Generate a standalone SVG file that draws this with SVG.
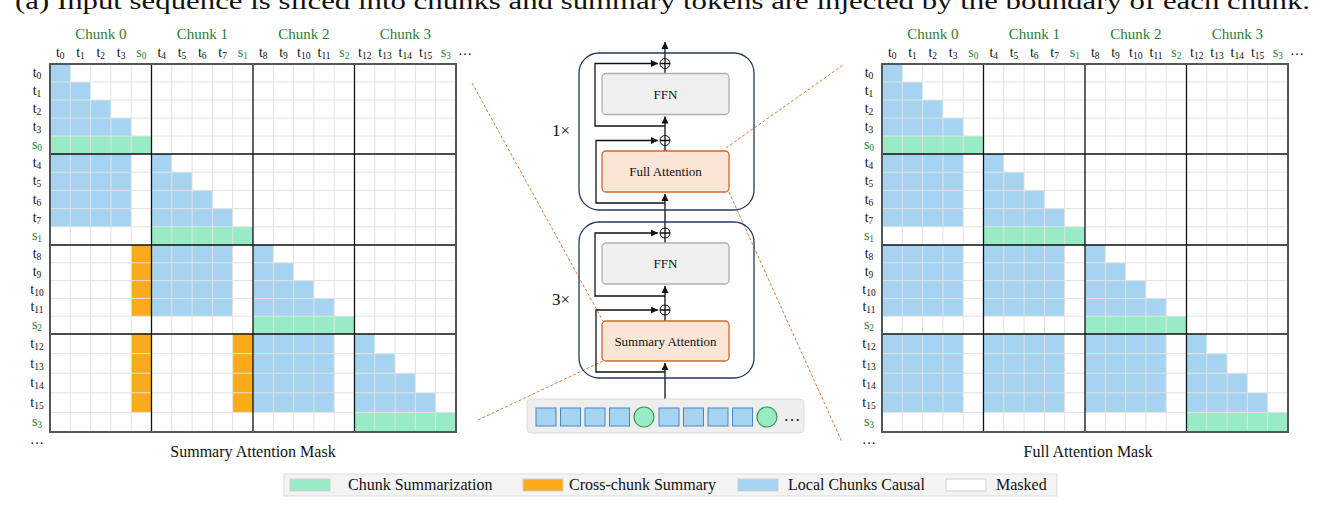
<svg xmlns="http://www.w3.org/2000/svg" xmlns:xlink="http://www.w3.org/1999/xlink" width="1336" height="519" viewBox="0 0 1336 519" font-family="'Liberation Serif', serif">
<style>
text{font-family:'Liberation Serif',serif;fill:#111}
.lb{font-size:14px;text-anchor:middle}
.g{fill:#2e7d32}
.ck{font-size:15px;text-anchor:middle;fill:#2e7d32}
.b{fill:#a6d4f0}
.gr{fill:#98ebc4}
.o{fill:#fbaa19}
.grid{stroke:#e2e2e2;stroke-width:1;fill:none}
.bd{stroke:#111;stroke-width:1.3;fill:none}
.ob{stroke:#555;stroke-width:2;fill:none}
.blk{fill:none;stroke:#223a5e;stroke-width:1.3}
.ffn{fill:#f0f0f0;stroke:#b0b0b0;stroke-width:1.3}
.att{fill:#fbe5d6;stroke:#d06a28;stroke-width:1.3}
.ln{stroke:#111;stroke-width:1.3;fill:none}
.dash{stroke:#e07a30;stroke-width:1;stroke-dasharray:3,2;fill:none}
.tok{fill:#a6d4f0;stroke:#4a86c0;stroke-width:1}
.sum{fill:#98ebc4;stroke:#3a9a4a;stroke-width:1.2}
.sub{font-size:9.5px}
.lg{font-size:16px}
</style>
<defs>
<marker id="ar" markerWidth="8" markerHeight="8" refX="7" refY="4" orient="auto" markerUnits="userSpaceOnUse"><path d="M0,0.5L7,4L0,7.5Z" fill="#111"/></marker>
<g id="gridlines">
<path class="grid" d="M70.3 64V432M90.6 64V432M110.9 64V432M131.2 64V432M171.8 64V432M192.1 64V432M212.4 64V432M232.7 64V432M273.3 64V432M293.6 64V432M313.9 64V432M334.2 64V432M374.8 64V432M395.1 64V432M415.4 64V432M435.7 64V432M50 82H456M50 100H456M50 118H456M50 136H456M50 172.2H456M50 190.4H456M50 208.6H456M50 226.8H456M50 262.8H456M50 280.6H456M50 298.4H456M50 316.2H456M50 353.6H456M50 373.2H456M50 392.8H456M50 412.4H456"/>
<path class="bd" d="M151.5 64V432M253 64V432M354.5 64V432M50 154H456M50 245H456M50 334H456"/>
<rect class="ob" x="50" y="64" width="406" height="368"/>
</g>
<g id="diag">
<rect class="b" x="50" y="64" width="20.3" height="18"/><rect class="b" x="50" y="82" width="40.6" height="18"/><rect class="b" x="50" y="100" width="60.9" height="18"/><rect class="b" x="50" y="118" width="81.2" height="18"/><rect class="gr" x="50" y="136" width="101.5" height="18"/>
<rect class="b" x="151.5" y="154" width="20.3" height="18.2"/><rect class="b" x="151.5" y="172.2" width="40.6" height="18.2"/><rect class="b" x="151.5" y="190.4" width="60.9" height="18.2"/><rect class="b" x="151.5" y="208.6" width="81.2" height="18.2"/><rect class="gr" x="151.5" y="226.8" width="101.5" height="18.2"/>
<rect class="b" x="253" y="245" width="20.3" height="17.8"/><rect class="b" x="253" y="262.8" width="40.6" height="17.8"/><rect class="b" x="253" y="280.6" width="60.9" height="17.8"/><rect class="b" x="253" y="298.4" width="81.2" height="17.8"/><rect class="gr" x="253" y="316.2" width="101.5" height="17.8"/>
<rect class="b" x="354.5" y="334" width="20.3" height="19.6"/><rect class="b" x="354.5" y="353.6" width="40.6" height="19.6"/><rect class="b" x="354.5" y="373.2" width="60.9" height="19.6"/><rect class="b" x="354.5" y="392.8" width="81.2" height="19.6"/><rect class="gr" x="354.5" y="412.4" width="101.5" height="19.6"/>
</g>
<g id="labels">
<text class="ck" x="100.8" y="39">Chunk 0</text><text class="ck" x="202.3" y="39">Chunk 1</text><text class="ck" x="303.8" y="39">Chunk 2</text><text class="ck" x="405.3" y="39">Chunk 3</text>
<text class="lb" y="57"><tspan x="60.2">t<tspan class="sub" dy="2">0</tspan></tspan><tspan x="80.5" dy="-2">t<tspan class="sub" dy="2">1</tspan></tspan><tspan x="100.8" dy="-2">t<tspan class="sub" dy="2">2</tspan></tspan><tspan x="121.1" dy="-2">t<tspan class="sub" dy="2">3</tspan></tspan><tspan x="141.4" dy="-2" class="g">s<tspan class="sub" dy="2">0</tspan></tspan><tspan x="161.7" dy="-2">t<tspan class="sub" dy="2">4</tspan></tspan><tspan x="182" dy="-2">t<tspan class="sub" dy="2">5</tspan></tspan><tspan x="202.3" dy="-2">t<tspan class="sub" dy="2">6</tspan></tspan><tspan x="222.6" dy="-2">t<tspan class="sub" dy="2">7</tspan></tspan><tspan x="242.9" dy="-2" class="g">s<tspan class="sub" dy="2">1</tspan></tspan><tspan x="263.2" dy="-2">t<tspan class="sub" dy="2">8</tspan></tspan><tspan x="283.5" dy="-2">t<tspan class="sub" dy="2">9</tspan></tspan><tspan x="303.8" dy="-2">t<tspan class="sub" dy="2">10</tspan></tspan><tspan x="324.1" dy="-2">t<tspan class="sub" dy="2">11</tspan></tspan><tspan x="344.4" dy="-2" class="g">s<tspan class="sub" dy="2">2</tspan></tspan><tspan x="364.7" dy="-2">t<tspan class="sub" dy="2">12</tspan></tspan><tspan x="385" dy="-2">t<tspan class="sub" dy="2">13</tspan></tspan><tspan x="405.3" dy="-2">t<tspan class="sub" dy="2">14</tspan></tspan><tspan x="425.6" dy="-2">t<tspan class="sub" dy="2">15</tspan></tspan><tspan x="445.9" dy="-2" class="g">s<tspan class="sub" dy="2">3</tspan></tspan><tspan x="465" dy="-4">…</tspan></text>
<text class="lb" x="37" y="77">t<tspan class="sub" dy="2">0</tspan></text>
<text class="lb" x="37" y="95">t<tspan class="sub" dy="2">1</tspan></text>
<text class="lb" x="37" y="113">t<tspan class="sub" dy="2">2</tspan></text>
<text class="lb" x="37" y="131">t<tspan class="sub" dy="2">3</tspan></text>
<text class="lb g" x="37" y="149">s<tspan class="sub" dy="2">0</tspan></text>
<text class="lb" x="37" y="167">t<tspan class="sub" dy="2">4</tspan></text>
<text class="lb" x="37" y="185">t<tspan class="sub" dy="2">5</tspan></text>
<text class="lb" x="37" y="203.5">t<tspan class="sub" dy="2">6</tspan></text>
<text class="lb" x="37" y="221.5">t<tspan class="sub" dy="2">7</tspan></text>
<text class="lb g" x="37" y="240">s<tspan class="sub" dy="2">1</tspan></text>
<text class="lb" x="37" y="258">t<tspan class="sub" dy="2">8</tspan></text>
<text class="lb" x="37" y="275.5">t<tspan class="sub" dy="2">9</tspan></text>
<text class="lb" x="37" y="293.5">t<tspan class="sub" dy="2">10</tspan></text>
<text class="lb" x="37" y="311">t<tspan class="sub" dy="2">11</tspan></text>
<text class="lb g" x="37" y="329">s<tspan class="sub" dy="2">2</tspan></text>
<text class="lb" x="37" y="348">t<tspan class="sub" dy="2">12</tspan></text>
<text class="lb" x="37" y="367.5">t<tspan class="sub" dy="2">13</tspan></text>
<text class="lb" x="37" y="387">t<tspan class="sub" dy="2">14</tspan></text>
<text class="lb" x="37" y="406.5">t<tspan class="sub" dy="2">15</tspan></text>
<text class="lb g" x="37" y="426">s<tspan class="sub" dy="2">3</tspan></text>
<text class="lb" x="37" y="444">…</text>
</g>
</defs>

<text x="15" y="9" style="font-size:24px" textLength="1295" lengthAdjust="spacingAndGlyphs">(a) Input sequence is sliced into chunks and summary tokens are injected by the boundary of each chunk.</text>

<g id="summary-mask">
<rect x="50" y="64" width="406" height="368" fill="#fff"/>
<use xlink:href="#diag"/>
<rect class="b" x="50" y="154" width="81.2" height="72.8"/>
<rect class="b" x="151.5" y="245" width="81.2" height="71.2"/>
<rect class="b" x="253" y="334" width="81.2" height="78.4"/>
<rect class="o" x="131.2" y="245" width="20.3" height="71.2"/>
<rect class="o" x="131.2" y="334" width="20.3" height="78.4"/>
<rect class="o" x="232.7" y="334" width="20.3" height="78.4"/>
<use xlink:href="#gridlines"/>
<use xlink:href="#labels"/>
<text x="253" y="457" class="lg" style="text-anchor:middle">Summary Attention Mask</text>
</g>

<g id="full-mask" transform="translate(832,0)">
<rect x="50" y="64" width="406" height="368" fill="#fff"/>
<use xlink:href="#diag"/>
<rect class="b" x="50" y="154" width="81.2" height="72.8"/>
<rect class="b" x="50" y="245" width="81.2" height="71.2"/>
<rect class="b" x="151.5" y="245" width="81.2" height="71.2"/>
<rect class="b" x="50" y="334" width="81.2" height="78.4"/>
<rect class="b" x="151.5" y="334" width="81.2" height="78.4"/>
<rect class="b" x="253" y="334" width="81.2" height="78.4"/>
<use xlink:href="#gridlines"/>
<use xlink:href="#labels"/>
<text x="256" y="457" class="lg" style="text-anchor:middle">Full Attention Mask</text>
</g>

<g id="connectors">
<path class="dash" d="M472 83L603 321M478 420L603 361M726 148L843 65M729 192L842 442"/>
<path class="ln" d="M665 399V363" marker-end="url(#ar)"/>
<path class="ln" d="M665 321V315" />
<path class="ln" d="M665 372H596V310H658" marker-end="url(#ar)"/>
<path class="ln" d="M665 305V286" marker-end="url(#ar)"/>
<path class="ln" d="M665 243V238"/>
<path class="ln" d="M665 296H595V233H658" marker-end="url(#ar)"/>
<path class="ln" d="M665 228V194" marker-end="url(#ar)"/>
<path class="ln" d="M665 151V145.5"/>
<path class="ln" d="M665 203H596V140.5H658" marker-end="url(#ar)"/>
<path class="ln" d="M665 135.5V116.5" marker-end="url(#ar)"/>
<path class="ln" d="M665 73.5V68.5"/>
<path class="ln" d="M665 126H595V63.5H658" marker-end="url(#ar)"/>
<path class="ln" d="M665 58.5V42" marker-end="url(#ar)"/>
</g>

<g id="block-full">
<rect class="blk" x="579" y="53" width="175" height="157" rx="20"/>
<rect class="ffn" x="602" y="73.5" width="127" height="41" rx="4"/>
<text x="665.5" y="98.5" style="font-size:13px;text-anchor:middle">FFN</text>
<rect class="att" x="602" y="151" width="127" height="41" rx="4"/>
<text x="665.5" y="176" style="font-size:13px;text-anchor:middle">Full Attention</text>
<circle cx="665" cy="63.5" r="5" fill="#fff" stroke="#111" stroke-width="1"/><path class="ln" d="M660 63.5H670M665 58.5V68.5" stroke-width="1"/>
<circle cx="665" cy="140.5" r="5" fill="#fff" stroke="#111" stroke-width="1"/><path class="ln" d="M660 140.5H670M665 135.5V145.5" stroke-width="1"/>
<text x="561" y="136" style="font-size:17px;text-anchor:middle">1×</text>
</g>

<g id="block-summary">
<rect class="blk" x="579" y="222" width="175" height="156" rx="20"/>
<rect class="ffn" x="602" y="243" width="127" height="41" rx="4"/>
<text x="665.5" y="268" style="font-size:13px;text-anchor:middle">FFN</text>
<rect class="att" x="602" y="321" width="127" height="40" rx="4"/>
<text x="665.5" y="345.5" style="font-size:13px;text-anchor:middle">Summary Attention</text>
<circle cx="665" cy="233" r="5" fill="#fff" stroke="#111" stroke-width="1"/><path class="ln" d="M660 233H670M665 228V238" stroke-width="1"/>
<circle cx="665" cy="310" r="5" fill="#fff" stroke="#111" stroke-width="1"/><path class="ln" d="M660 310H670M665 305V315" stroke-width="1"/>
<text x="561" y="305" style="font-size:17px;text-anchor:middle">3×</text>
</g>

<g id="tokens">
<rect x="527" y="399" width="277" height="34" rx="4" fill="#eeeeee" stroke="#dddddd"/>
<rect class="tok" x="536" y="408" width="20" height="18"/>
<rect class="tok" x="560.5" y="408" width="20" height="18"/>
<rect class="tok" x="585" y="408" width="20" height="18"/>
<rect class="tok" x="609.5" y="408" width="20" height="18"/>
<circle class="sum" cx="644" cy="417" r="10"/>
<rect class="tok" x="659" y="408" width="20" height="18"/>
<rect class="tok" x="683.5" y="408" width="20" height="18"/>
<rect class="tok" x="708" y="408" width="20" height="18"/>
<rect class="tok" x="732.5" y="408" width="20" height="18"/>
<circle class="sum" cx="767" cy="417" r="10"/>
<text x="792" y="421" style="font-size:17px;text-anchor:middle">…</text>
</g>

<g id="legend">
<rect x="284" y="474" width="773" height="22" fill="#f4f4f4" stroke="#dddddd"/>
<rect x="290" y="479" width="40" height="12" fill="#98ebc4" stroke="#cfcfcf"/>
<text x="348" y="490" class="lg">Chunk Summarization</text>
<rect x="523" y="479" width="40" height="12" fill="#fbaa19" stroke="#cfcfcf"/>
<text x="569" y="490" class="lg">Cross-chunk Summary</text>
<rect x="738" y="479" width="40" height="12" fill="#a6d4f0" stroke="#cfcfcf"/>
<text x="788" y="490" class="lg">Local Chunks Causal</text>
<rect x="946" y="479" width="40" height="12" fill="#fff" stroke="#cfcfcf"/>
<text x="996" y="490" class="lg">Masked</text>
</g>
</svg>
